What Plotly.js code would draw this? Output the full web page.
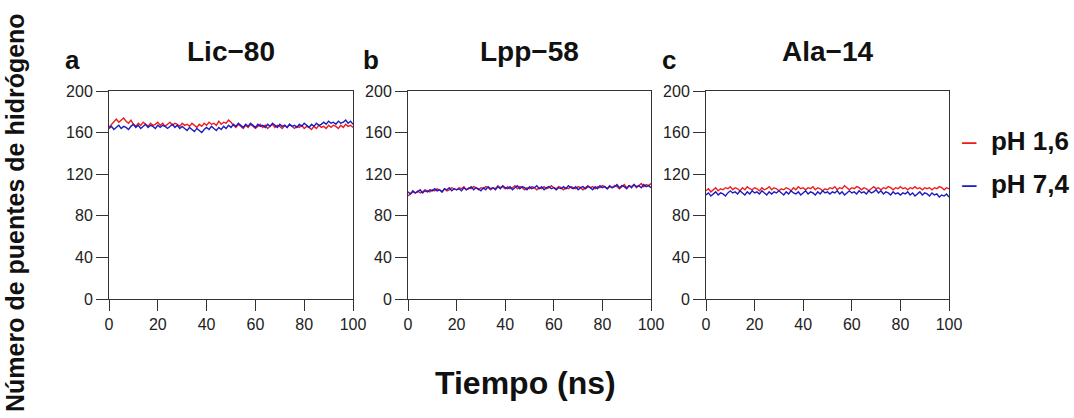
<!DOCTYPE html>
<html>
<head>
<meta charset="utf-8">
<script src="https://cdn.plot.ly/plotly-3.0.1.min.js"></script>
<style>html,body{margin:0;padding:0;background:#fff;}#chart{width:1074px;height:418px;}</style>
</head>
<body>
<div id="chart"></div>
<script>
// Time axis (ns)
const time = Array.from({length: 101}, (_, i) => i);

const panelTitles = ["Lic\u221280", "Lpp\u221258", "Ala\u221214"];
const panelLetters = ["a", "b", "c"];
const seriesNames = ["pH 1,6", "pH 7,4"];
const yTicks = [0, 40, 80, 120, 160, 200];
const xTicks = [0, 20, 40, 60, 80, 100];

// Lic-80
const lic80_pH16 = [165,168,171,173,170,172,174,171,169,172,168,
  166,169,167,170,168,166,169,167,168,170,
  167,169,166,168,170,167,169,168,166,169,
  167,168,166,169,167,165,168,166,169,167,
  170,168,169,167,171,168,170,169,172,170,
  167,165,168,166,164,167,165,168,166,164,
  166,168,165,167,164,166,168,165,167,166,
  164,167,165,168,166,164,166,165,167,164,
  166,165,163,166,164,167,165,166,164,167,
  165,167,166,164,167,165,168,166,167,165,166];
const lic80_pH74 = [164,166,163,165,167,164,166,165,163,166,168,
  165,167,164,166,168,165,167,166,164,167,
  165,167,166,164,166,168,165,167,164,166,
  164,162,165,163,161,164,162,160,163,165,
  163,166,164,162,165,163,166,164,167,165,
  168,166,169,167,165,168,166,169,167,165,
  168,166,167,165,168,166,169,167,165,168,
  166,167,165,168,166,167,165,168,166,169,
  167,165,168,166,169,167,168,170,168,171,
  169,170,168,171,169,170,172,169,171,168,167];

// Lpp-58
const lpp58_pH16 = [99,101,103,102,104,102,103,105,104,103,105,
  104,106,105,103,106,104,105,107,106,105,
  107,106,108,105,107,106,108,107,105,107,
  106,108,107,105,107,106,109,107,108,106,
  108,106,107,109,106,108,107,105,107,106,
  108,107,105,107,106,108,106,107,109,107,
  106,108,107,105,107,106,108,107,106,108,
  107,105,107,109,107,108,106,108,107,109,
  108,106,108,107,109,108,106,108,110,107,
  109,108,110,107,109,111,108,110,109,111,109];
const lpp58_pH74 = [103,101,104,102,103,105,102,104,103,105,104,
  106,104,105,103,106,105,107,104,106,105,
  106,104,107,105,106,108,105,107,106,104,
  107,105,108,106,107,105,108,106,109,107,
  106,108,105,107,109,106,108,107,105,108,
  106,107,109,106,108,105,107,108,106,107,
  105,107,106,108,106,109,107,106,108,105,
  107,108,106,108,107,105,108,106,109,107,
  108,106,109,107,108,110,107,109,108,106,
  109,107,110,108,109,107,110,108,109,107,108];

// Ala-14
const ala14_pH16 = [104,106,103,105,107,104,106,105,107,106,108,
  105,107,106,104,107,105,108,106,105,107,
  106,104,107,105,106,108,105,107,106,104,
  106,105,107,106,104,107,105,108,106,107,
  105,107,106,108,105,107,106,104,106,105,
  107,106,108,105,107,106,109,107,105,107,
  106,108,107,105,107,106,104,106,108,106,
  107,105,107,106,108,107,105,107,106,108,
  106,107,105,107,106,108,106,107,105,107,
  106,107,105,107,106,108,107,105,107,106,107];
const ala14_pH74 = [100,102,99,101,103,100,102,101,99,102,104,
  102,103,101,104,102,100,103,101,104,102,
  103,101,104,102,100,103,101,103,102,104,
  102,100,103,101,104,102,101,103,100,102,
  104,101,103,102,100,103,101,104,102,103,
  101,103,102,104,101,103,100,102,104,102,
  103,101,104,102,103,101,104,102,103,105,
  102,104,101,103,102,100,103,101,102,100,
  102,101,103,100,102,99,101,103,100,102,
  101,99,102,100,101,98,100,99,101,98,99];

const panelData = [
  [lic80_pH16, lic80_pH74],
  [lpp58_pH16, lpp58_pH74],
  [ala14_pH16, ala14_pH74]
];

const RED = '#ee1c1c';
const BLUE = '#1c1cc4';
const colors = [RED, BLUE];
const FONT = 'Liberation Sans, Arial, Helvetica, sans-serif';
const AX = '#333333';
const W = 1074, H = 418;

const xDomains = [[109, 353], [408, 651], [706, 949]];
const yDomainPx = [91, 299];

const traces = [];
panelData.forEach((pair, p) => {
  pair.forEach((vals, s) => {
    traces.push({
      x: time, y: vals, type: 'scatter', mode: 'lines',
      name: seriesNames[s], showlegend: false,
      line: {color: colors[s], width: 1.4},
      xaxis: p === 0 ? 'x' : 'x' + (p + 1),
      yaxis: p === 0 ? 'y' : 'y' + (p + 1)
    });
  });
});

const layout = {
  width: W, height: H,
  margin: {l: 0, r: 0, t: 0, b: 0},
  paper_bgcolor: '#fff', plot_bgcolor: '#fff',
  showlegend: false,
  font: {family: FONT, color: '#222'},
  annotations: []
};

for (let p = 0; p < 3; p++) {
  const sx = p === 0 ? '' : String(p + 1);
  layout['xaxis' + sx] = {
    domain: [xDomains[p][0] / W, xDomains[p][1] / W],
    anchor: 'y' + sx,
    range: [0, 100],
    tickvals: xTicks,
    ticktext: xTicks.map(String),
    ticks: 'outside', ticklen: 11, tickwidth: 1, tickcolor: AX,
    showline: true, linecolor: AX, linewidth: 1, mirror: true,
    showgrid: false, zeroline: false,
    tickfont: {family: FONT, size: 16, color: '#222'}
  };
  layout['yaxis' + sx] = {
    domain: [(H - yDomainPx[1]) / H, (H - yDomainPx[0]) / H],
    anchor: 'x' + sx,
    range: [0, 200],
    tickvals: yTicks,
    ticktext: yTicks.map(String),
    ticks: 'outside', ticklen: 12, tickwidth: 1, tickcolor: AX,
    showline: true, linecolor: AX, linewidth: 1, mirror: true,
    showgrid: false, zeroline: false,
    tickfont: {family: FONT, size: 16, color: '#222'}
  };
  const cx = (xDomains[p][0] + xDomains[p][1]) / 2;
  layout.annotations.push({
    text: '<b>' + panelTitles[p] + '</b>', xref: 'paper', yref: 'paper',
    x: cx / W, y: (H - 52) / H, xanchor: 'center', yanchor: 'middle',
    showarrow: false, font: {family: FONT, size: 28, color: '#111'}
  });
  layout.annotations.push({
    text: '<b>' + panelLetters[p] + '</b>', xref: 'paper', yref: 'paper',
    x: (xDomains[p][0] - 37) / W, y: (H - 60) / H, xanchor: 'center', yanchor: 'middle',
    showarrow: false, font: {family: FONT, size: 26, color: '#111'}
  });
}

layout.annotations.push({
  text: '<b>N\u00famero de puentes de hidr\u00f3geno</b>', xref: 'paper', yref: 'paper',
  x: 15 / W, y: (H - 213) / H, xanchor: 'center', yanchor: 'middle', textangle: -90,
  showarrow: false, font: {family: FONT, size: 25, color: '#111'}
});
layout.annotations.push({
  text: '<b>Tiempo (ns)</b>', xref: 'paper', yref: 'paper',
  x: 525 / W, y: (H - 383) / H, xanchor: 'center', yanchor: 'middle',
  showarrow: false, font: {family: FONT, size: 32, color: '#111'}
});

const legendY = [141, 184];
seriesNames.forEach((nm, s) => {
  layout.annotations.push({
    text: '<span style="color:' + colors[s] + '">\u2013</span>\u00a0\u00a0<b>' + nm + '</b>',
    xref: 'paper', yref: 'paper',
    x: 960 / W, y: (H - legendY[s]) / H, xanchor: 'left', yanchor: 'middle',
    showarrow: false, font: {family: FONT, size: 26, color: '#111'}
  });
});

Plotly.newPlot('chart', traces, layout, {displayModeBar: false, staticPlot: true});
</script>
</body>
</html>
